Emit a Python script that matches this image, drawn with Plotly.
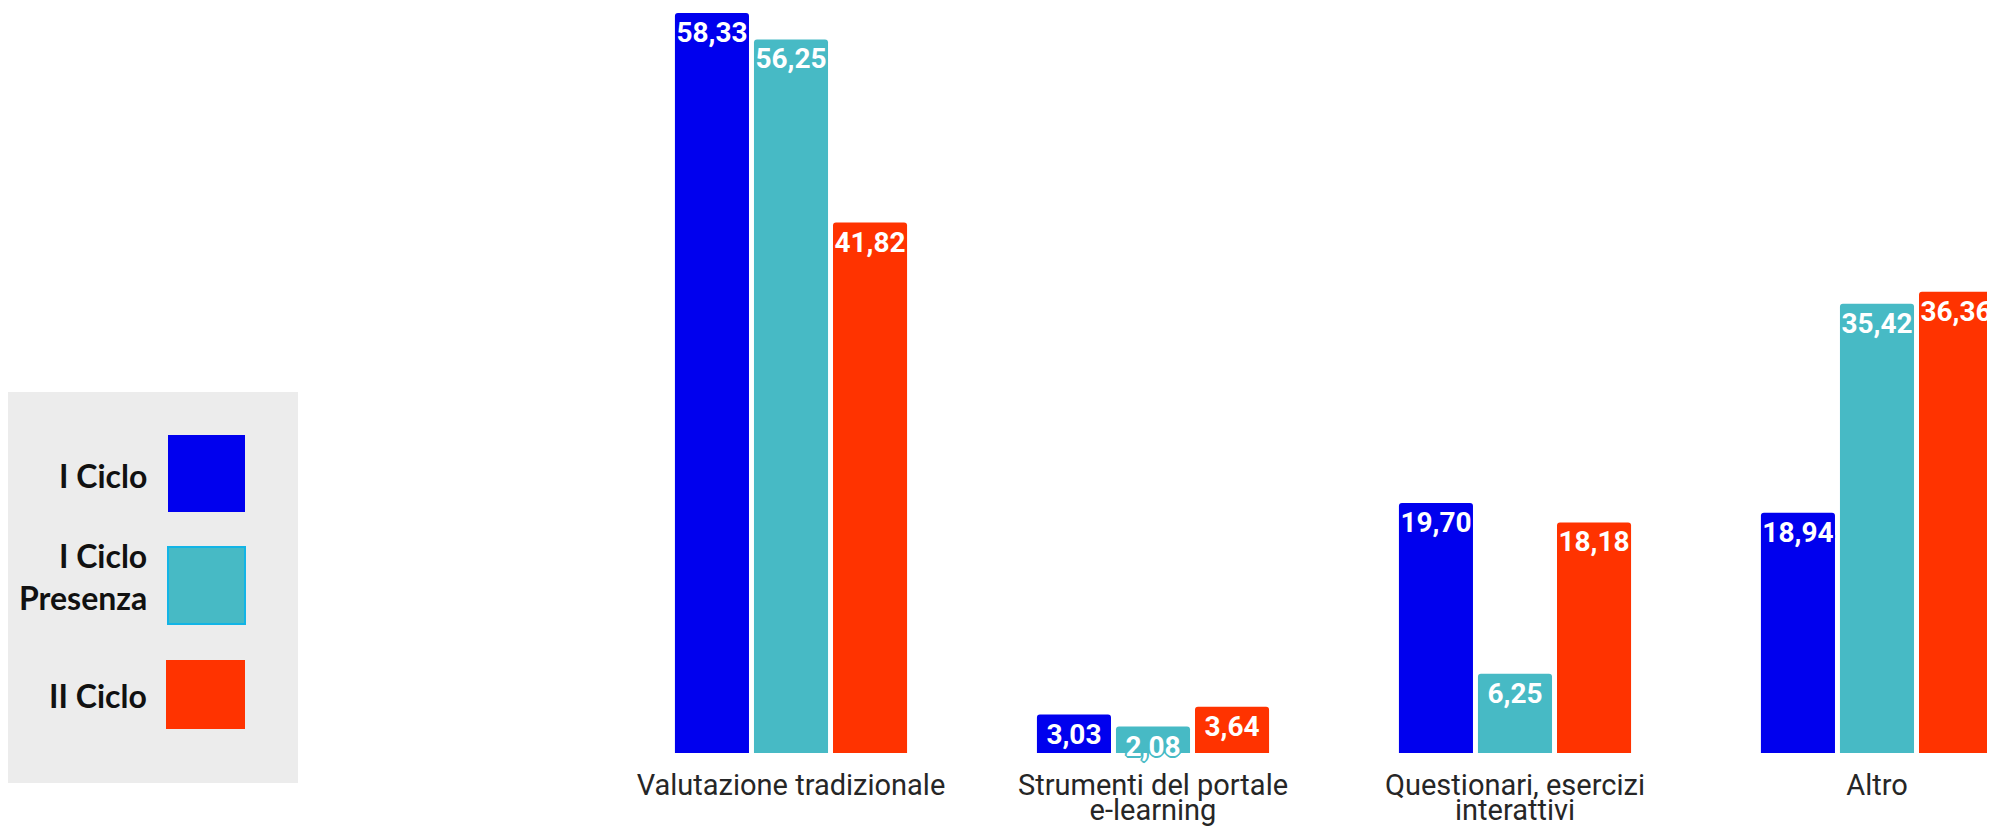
import plotly.graph_objects as go

categories = ["Valutazione tradizionale", "Strumenti del portale e-learning",
              "Questionari, esercizi interattivi", "Altro"]
label_line1 = ["Valutazione tradizionale", "Strumenti del portale", "Questionari, esercizi", "Altro"]
label_line2 = ["", "e-learning", "interattivi", ""]

series_names = ["I Ciclo", "I Ciclo Presenza", "II Ciclo"]
legend_labels = ["I Ciclo", "I Ciclo<br>Presenza", "II Ciclo"]
i_ciclo = [58.33, 3.03, 19.70, 18.94]
i_ciclo_presenza = [56.25, 2.08, 6.25, 35.42]
ii_ciclo = [41.82, 3.64, 18.18, 36.36]
values = [i_ciclo, i_ciclo_presenza, ii_ciclo]
colors = ["#0000EE", "#47BAC5", "#FF3300"]

# the page body has an 8px margin, so the figure is laid out 8px in from the window corner
OFF = 8
W_FIG, H_FIG = 1995 - OFF, 827 - OFF
L, R, T, B = 602, 0, 0, 74
PW, PH = W_FIG - L - R, H_FIG - T - B


def px_x(p):
    """window pixel -> paper x"""
    return (p - OFF - L) / PW


def px_y(p):
    """window pixel -> paper y"""
    return (T + PH - (p - OFF)) / PH


def fmt(v):
    return f"{v:.2f}".replace(".", ",")


fig = go.Figure()
for name, vals, col in zip(series_names, values, colors):
    shadow = ", ".join(f"{dx}px {dy}px 0px {col}" for dx, dy in
                       [(2, 0), (-2, 0), (0, 2), (0, -2), (1, 1), (-1, -1), (1, -1), (-1, 1)])
    fig.add_trace(go.Bar(
        x=categories, y=vals, name=name, marker=dict(color=col, line=dict(width=0)),
        text=[fmt(v) for v in vals], textposition="inside", insidetextanchor="end",
        textangle=0, constraintext="none",
        textfont=dict(family="Roboto", size=28, color="white", weight="bold", shadow=shadow),
        cliponaxis=False, showlegend=False,
    ))

# helper trace for the second line of the category labels
fig.add_trace(go.Scatter(x=categories, y=[0] * len(categories), xaxis="x2", mode="markers",
                         marker=dict(opacity=0), showlegend=False, hoverinfo="skip"))

xr = [-0.5, 3.326]
fig.update_layout(
    width=W_FIG, height=H_FIG,
    margin=dict(l=L, r=R, t=T, b=B, pad=0),
    paper_bgcolor="white", plot_bgcolor="white",
    barmode="group", bargap=0.345, bargroupgap=0.063, barcornerradius=3,
    uniformtext=dict(minsize=28, mode="show"),
    showlegend=False,
    xaxis=dict(type="category", range=xr, categoryarray=categories, tickmode="array",
               tickvals=categories, ticktext=label_line1, showgrid=False, zeroline=False,
               showline=False, ticks="", ticklabelstandoff=12, automargin=False,
               tickfont=dict(family="Roboto", size=29, color="#262626")),
    xaxis2=dict(type="category", range=xr, categoryarray=categories, overlaying="x",
                anchor="y", side="bottom", tickmode="array", tickvals=categories,
                ticktext=label_line2, showgrid=False, zeroline=False, showline=False,
                ticks="", ticklabelstandoff=37, automargin=False,
                tickfont=dict(family="Roboto", size=29, color="#262626")),
    yaxis=dict(range=[0, 58.73], visible=False, showgrid=False, zeroline=False, automargin=False),
)

# legend panel drawn at the left
shapes = [dict(type="rect", xref="paper", yref="paper", x0=px_x(0), x1=px_x(298),
               y0=px_y(783), y1=px_y(392), fillcolor="#ECECEC", line=dict(width=0), layer="below")]
boxes = [(168, 245, 435, 512), (168, 245, 547, 624), (166, 245, 660, 729)]
borders = [None, "#12B4E6", None]
text_y = [475, 576, 695]
annotations = []
for (x0, x1, y0, y1), col, bcol, lab, ty in zip(boxes, colors, borders, legend_labels, text_y):
    shapes.append(dict(type="rect", xref="paper", yref="paper", x0=px_x(x0), x1=px_x(x1),
                       y0=px_y(y1), y1=px_y(y0), fillcolor=col,
                       line=dict(width=2 if bcol else 0, color=bcol or col)))
    annotations.append(dict(xref="paper", yref="paper", x=px_x(149), y=px_y(ty),
                            xanchor="right", yanchor="middle", text=lab, showarrow=False,
                            align="right",
                            font=dict(family="Lato", size=32, color="#111111", weight="bold")))
fig.update_layout(shapes=shapes, annotations=annotations)

fig.write_html("out.html")
